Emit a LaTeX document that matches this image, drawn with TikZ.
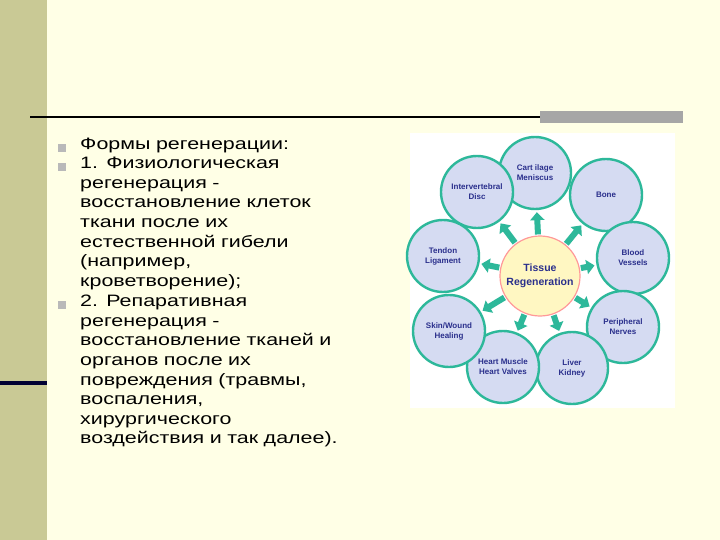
\documentclass[tikz,border=0pt]{standalone}
\usepackage{fontspec}
\setmainfont{Liberation Sans}
\newfontfamily\widefont[FakeStretch=1.3]{Liberation Sans}
\usetikzlibrary{arrows.meta}
\definecolor{bg}{HTML}{FFFFE6}
\definecolor{olive}{HTML}{C9C995}
\definecolor{teal}{HTML}{2DB89A}
\definecolor{cfill}{HTML}{D5DBF2}
\definecolor{ctext}{HTML}{2A2F8C}
\definecolor{yfill}{HTML}{FFF7C2}
\tikzset{
 outer/.style={circle,draw=teal,line width=2.4pt,fill=cfill,minimum size=72pt,inner sep=0pt,align=center,font=\bfseries\fontsize{8}{10}\selectfont,text=ctext},
 arr/.style={draw=teal,line width=6pt,-{Triangle[length=8pt,width=14pt]}},
 txt/.style={anchor=north west,align=left,font=\widefont\fontsize{16.5}{19.6}\selectfont,inner sep=0pt,text width=300pt},
 bul/.style={fill=gray!55,minimum size=8pt,inner sep=0pt}
}
\begin{document}
\begin{tikzpicture}[x=1pt,y=-1pt]
\fill[bg] (0,0) rectangle (720,540);
\useasboundingbox (0,0) rectangle (720,540);
\fill[olive] (0,0) rectangle (47,540);
\fill[black!80!blue] (0,381) rectangle (47,385);
\draw[line width=1.5pt] (30,117) -- (683,117);
\fill[gray!70] (540,111) rectangle (683,123);
\fill[white] (410,133) rectangle (675,408);
\node[bul] (b1) at (62,148) {};
\node[bul] (b2) at (62,167) {};
\node[bul] (b3) at (62,305) {};
\node[txt] (t1) at (80,138) {Формы регенерации:};
\node[txt] (t2) at (80,157) {1. Физиологическая\\регенерация -\\восстановление клеток\\ткани после их\\естественной гибели\\(например,\\кроветворение);};
\node[txt] (t3) at (80,295) {2. Репаративная\\регенерация -\\восстановление тканей и\\органов после их\\повреждения (травмы,\\воспаления,\\хирургического\\воздействия и так далее).};
\node[circle,draw=red!40,line width=1.2pt,fill=yfill,minimum size=80pt,align=center,font=\bfseries\fontsize{10.5}{14}\selectfont,text=ctext] (c) at (540,276) {Tissue\\Regeneration};
\node[outer] (o1) at (535,173) {Cart ilage\\Meniscus};
\node[outer] (o2) at (606,195) {Bone};
\node[outer] (o3) at (633,258) {Blood\\Vessels};
\node[outer] (o4) at (623,327) {Peripheral\\Nerves};
\node[outer] (o5) at (572,368) {Liver\\Kidney};
\node[outer] (o6) at (503,367) {Heart Muscle\\Heart Valves};
\node[outer] (o7) at (449,331) {Skin/Wound\\Healing};
\node[outer] (o8) at (443,256) {Tendon\\Ligament};
\node[outer] (o9) at (477,192) {Intervertebral\\Disc};
\foreach \i in {1,...,9}{\draw[arr,shorten <=1pt,shorten >=2pt] (c) -- (o\i);}
\end{tikzpicture}
\end{document}
